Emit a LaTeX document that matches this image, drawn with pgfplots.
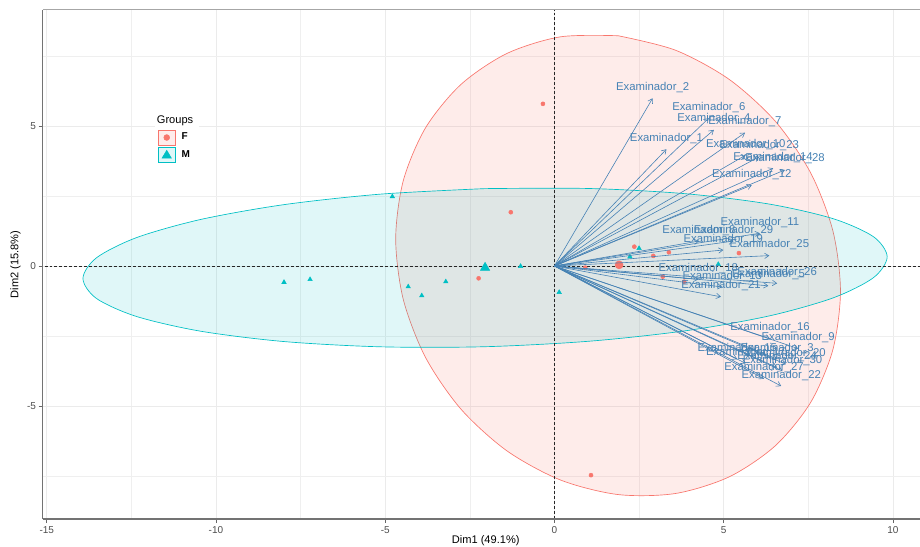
\documentclass[border=0pt]{standalone}
\usepackage{pgfplots}
\usepackage{pgfplotstable}
\pgfplotsset{compat=1.18}
\usepackage{fontspec}
\setmainfont{Liberation Sans}
\usetikzlibrary{arrows.meta}
\definecolor{Fcol}{HTML}{F8766D}
\definecolor{Mcol}{HTML}{00BFC4}
\definecolor{steel}{HTML}{4682B4}
\definecolor{gridc}{HTML}{EBEBEB}

\pgfplotstableread{
n x y ox oy
1 3.31 4.17 0 0
2 2.90 5.99 0 0
3 6.58 -3.33 0 0
4 4.71 4.86 0 0
5 6.32 -0.71 0 0
6 4.56 5.28 0 0
7 5.63 4.76 0 0
8 4.27 0.89 0 0
9 7.20 -2.95 0 0
10 5.65 3.96 0 0
11 6.07 1.17 0 0
12 5.83 2.89 0 0
13 4.96 -0.75 0 0
14 6.46 3.49 0 0
15 5.40 -3.33 0 0
16 6.37 -2.60 0 0
17 5.65 -3.48 0 0
18 4.25 -0.48 0 0
19 4.99 0.57 0 0
20 6.84 -3.51 0 0
21 4.92 -1.10 0 0
22 6.70 -4.29 0 0
23 6.05 3.90 0 0
24 6.58 -3.63 0 0
25 6.35 0.37 0 0
26 6.58 -0.62 0 0
27 6.19 -4.03 0 0
28 6.81 3.43 0 0
29 5.29 0.89 0 0
30 6.74 -3.75 0 0
}\vars

\pgfplotstableread{
x y
-0.34 5.79
-1.29 1.92
-2.24 -0.44
1.08 -7.47
2.36 0.69
2.92 0.36
3.38 0.49
0.91 -0.06
3.20 -0.38
5.45 0.46
3.83 -0.56
}\Fpts

\pgfplotstableread{
x y
-4.79 2.48
-7.99 -0.58
-7.22 -0.48
-4.32 -0.74
-3.92 -1.06
-3.21 -0.56
-1.00 -0.01
0.14 -0.94
2.50 0.63
2.23 0.33
4.84 0.06
}\Mpts

\begin{document}
\begin{tikzpicture}
\useasboundingbox (0,0) rectangle (690pt,409.5pt);
\begin{axis}[
  at={(32pt,20.25pt)}, anchor=south west,
  width=658pt, height=382pt, scale only axis,
  xmin=-15.12, xmax=10.80, ymin=-9.036, ymax=9.154,
  axis line style={draw=none},
  clip mode=individual,
  xtick={-15,-10,-5,0,5,10}, ytick={-5,0,5},
  minor xtick={-12.5,-7.5,-2.5,2.5,7.5},
  minor ytick={-7.5,-2.5,2.5,7.5},
  grid=both,
  major grid style={draw=gridc, line width=0.6pt},
  minor grid style={draw=gridc!80, line width=0.4pt},
  tick align=outside, xtick pos=bottom, ytick pos=left,
  major tick length=3pt, minor tick length=0pt,
  tick style={draw=black!60, line width=0.5pt},
  ticklabel style={font=\fontsize{7.5}{8}\selectfont, text=black!70},
  xticklabel style={yshift=1pt},
  yticklabel style={xshift=1.5pt},
  /pgf/number format/assume math mode=true,
  xlabel={Dim1 (49.1\%)}, ylabel={Dim2 (15.8\%)},
  label style={font=\fontsize{8.3}{9}\selectfont},
  xlabel style={at={(ticklabel cs:0.505)}, yshift=5pt},
  ylabel style={yshift=-2pt},
  legend style={at={(rel axis cs:0.128,0.803)}, anchor=north west,
    draw=none, fill=white, font=\fontsize{8.3}{9}\selectfont,
    row sep=1.3pt, inner sep=2pt},
  legend cell align=left,
]
% ellipses
\addplot[forget plot, draw=Fcol, line width=0.5pt, fill=Fcol, fill opacity=0.14, smooth] coordinates {
(1.880,8.223) (0.180,8.184) (-1.405,7.589) (-2.766,6.479) (-3.810,4.931) (-4.466,3.046) (-4.690,0.958) (-4.466,-1.194) (-3.810,-3.263) (-2.766,-5.107) (-1.405,-6.601) (0.180,-7.644) (1.880,-8.163) (3.580,-8.124) (5.165,-7.529) (6.526,-6.419) (7.570,-4.871) (8.226,-2.986) (8.450,-0.898) (8.226,1.254) (7.570,3.323) (6.526,5.167) (5.165,6.661) (3.580,7.704) (1.880,8.223)
} -- cycle;
\addplot[forget plot, draw=Mcol, line width=0.5pt, fill=Mcol, fill opacity=0.12, smooth] coordinates {
(-2.050,2.763) (-5.125,2.567) (-7.990,2.191) (-10.450,1.662) (-12.338,1.017) (-13.525,0.297) (-13.930,-0.447) (-13.525,-1.165) (-12.338,-1.807) (-10.450,-2.330) (-7.990,-2.699) (-5.125,-2.887) (-2.050,-2.883) (1.025,-2.687) (3.890,-2.311) (6.350,-1.782) (8.238,-1.137) (9.425,-0.417) (9.830,0.327) (9.425,1.045) (8.238,1.687) (6.350,2.210) (3.890,2.579) (1.025,2.767) (-2.050,2.763)
} -- cycle;
% reference lines
\addplot[forget plot, black!85, line width=0.55pt, dash pattern=on 2.2pt off 1.5pt] coordinates {(0,-9.2) (0,9.3)};
\addplot[forget plot, black!85, line width=0.55pt, dash pattern=on 2.2pt off 1.5pt] coordinates {(-15.5,0) (11,0)};
% individuals
\addplot[forget plot, only marks, mark=*, mark size=1.5pt, color=Fcol] table {\Fpts};
\addplot[forget plot, only marks, mark=triangle*, mark size=1.9pt, color=Mcol] table {\Mpts};
% group means
\addplot[forget plot, only marks, mark=*, mark size=3pt, color=Fcol] coordinates {(1.91,0.04)};
\addplot[forget plot, only marks, mark=triangle*, mark size=4pt, color=Mcol] coordinates {(-2.05,-0.06)};
% variable arrows
\addplot[forget plot, steel, line width=0.45pt, -{Straight Barb[length=3.2pt,width=4pt]},
  quiver={u=\thisrow{x}, v=\thisrow{y}}] table[x=ox, y=oy] {\vars};
% variable labels
\addplot[forget plot, only marks, mark=none, point meta=explicit symbolic,
  nodes near coords={Examinador\_\pgfplotspointmeta},
  every node near coord/.append style={font=\fontsize{8.5}{9}\selectfont, text=steel, anchor=center, yshift=8.2pt, inner sep=0pt}]
  table[x=x, y=y, meta=n] {\vars};
% legend
\addlegendimage{empty legend}
\addlegendentry{\hspace*{-16pt}Groups}
\addlegendimage{legend image code/.code={
  \draw[draw=Fcol, fill=Fcol!14, line width=0.5pt] (0pt,-5.6pt) rectangle (12.75pt,5.6pt);
  \fill[Fcol] (6.375pt,0pt) circle (2.2pt);}}
\addlegendentry{\hspace*{2.5pt}\fontsize{7.5}{8}\selectfont\textbf{F}}
\addlegendimage{legend image code/.code={
  \draw[draw=Mcol, fill=Mcol!12, line width=0.5pt] (0pt,-5.6pt) rectangle (12.75pt,5.6pt);
  \fill[Mcol] (6.375pt,3.4pt) -- (2.9pt,-2.4pt) -- (9.85pt,-2.4pt) -- cycle;}}
\addlegendentry{\hspace*{2.5pt}\fontsize{7.5}{8}\selectfont\textbf{M}}
% panel lines
\draw[black!35, line width=0.6pt] (rel axis cs:0,1) -- (rel axis cs:1,1);
\draw[black!55, line width=0.8pt] (rel axis cs:0,0) -- (rel axis cs:0,1);
\draw[black!55, line width=0.8pt] (rel axis cs:0,0) -- (rel axis cs:1,0);
\end{axis}
\end{tikzpicture}
\end{document}
